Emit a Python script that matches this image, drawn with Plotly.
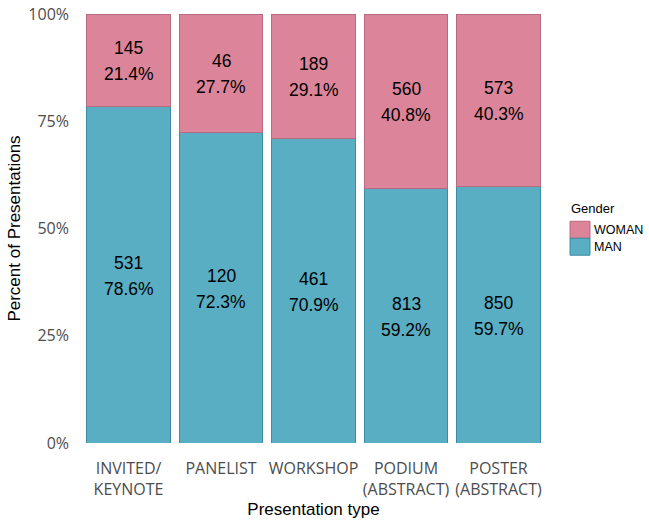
import plotly.graph_objects as go

categories = ["INVITED/<br>KEYNOTE", "PANELIST", "WORKSHOP", "PODIUM<br>(ABSTRACT)", "POSTER<br>(ABSTRACT)"]
woman_counts = [145, 46, 189, 560, 573]
man_counts = [531, 120, 461, 813, 850]
y_ticks = [0, 0.25, 0.5, 0.75, 1.0]
y_tick_labels = ["0%", "25%", "50%", "75%", "100%"]

totals = [w + m for w, m in zip(woman_counts, man_counts)]
man_frac = [m / t for m, t in zip(man_counts, totals)]
woman_frac = [w / t for w, t in zip(woman_counts, totals)]

PINK = "#DC8499"
PINK_LINE = "#B86A80"
BLUE = "#59AEC4"
BLUE_LINE = "#3C8CA2"
SANS = "Liberation Sans, Arial, sans-serif"
TICK = "Open Sans, sans-serif"
LABEL_FONT = dict(family=SANS, size=17.5, color="black")

fig = go.Figure()
fig.add_bar(
    x=categories, y=man_frac, name="MAN",
    marker=dict(color=BLUE, line=dict(color=BLUE_LINE, width=1)),
    showlegend=False, hoverinfo="skip",
)
fig.add_bar(
    x=categories, y=woman_frac, name="WOMAN",
    marker=dict(color=PINK, line=dict(color=PINK_LINE, width=1)),
    showlegend=False, hoverinfo="skip",
)

annotations = []
# value labels: count and percent, centred in each stacked segment
for cat, m, w, mf, wf in zip(categories, man_counts, woman_counts, man_frac, woman_frac):
    for count, frac, centre in [(m, mf, mf / 2), (w, wf, mf + wf / 2)]:
        annotations.append(dict(x=cat, y=centre, xref="x", yref="y", text=str(count),
                                showarrow=False, yshift=12, font=LABEL_FONT))
        annotations.append(dict(x=cat, y=centre, xref="x", yref="y", text=f"{frac*100:.1f}%",
                                showarrow=False, yshift=-14, font=LABEL_FONT))

W, H = 649, 522
PL, PR, PT, PB = 73, 554, 13.5, 443  # plot area in page pixels
L, R, T, B = PL, W - PR, PT, H - PB
pw, ph = W - L - R, H - T - B

def px(x):
    return (x - L) / pw

def py(y):
    return (H - B - y) / ph

shapes = []
annotations.append(dict(x=px(569), y=py(208), xref="paper", yref="paper", text="Gender",
                        showarrow=False, xanchor="left", yanchor="middle",
                        font=dict(family=SANS, size=13, color="black")))
for i, (lab, col, lcol) in enumerate([("WOMAN", PINK, PINK_LINE), ("MAN", BLUE, BLUE_LINE)]):
    y0 = 221 + i * 17
    shapes.append(dict(type="rect", xref="paper", yref="paper",
                       x0=px(570), x1=px(590), y0=py(y0 + 17), y1=py(y0),
                       fillcolor=col, line=dict(color=lcol, width=1)))
    annotations.append(dict(x=px(592), y=py(y0 + 8.5), xref="paper", yref="paper", text=lab,
                            showarrow=False, xanchor="left", yanchor="middle",
                            font=dict(family=SANS, size=12.5, color="black")))

fig.update_layout(
    barmode="stack",
    bargap=0.1,
    width=W, height=H,
    margin=dict(l=L, r=R, t=T, b=B, pad=0),
    plot_bgcolor="white", paper_bgcolor="white",
    shapes=shapes, annotations=annotations,
    xaxis=dict(
        title=dict(text="Presentation type", font=dict(family=SANS, size=17, color="black"), standoff=2),
        range=[-0.6, 4.6], showgrid=False, zeroline=False, showline=False, ticks="",
        tickfont=dict(family=TICK, size=16, color="#4D4D4D"), automargin=False,
        ticklabelstandoff=14,
    ),
    yaxis=dict(
        title=dict(text="Percent of Presentations", font=dict(family=SANS, size=17, color="black"), standoff=3),
        range=[0, 1], showgrid=False, zeroline=False, showline=False, ticks="",
        tickvals=y_ticks, ticktext=y_tick_labels,
        tickfont=dict(family=TICK, size=16, color="#4D4D4D"), automargin=False,
        ticklabelstandoff=3, ticklabeloverflow="allow",
    ),
)

fig.write_html("out.html", config={"displayModeBar": False},
               post_script="document.body.style.margin='0';document.body.style.overflow='hidden';")
